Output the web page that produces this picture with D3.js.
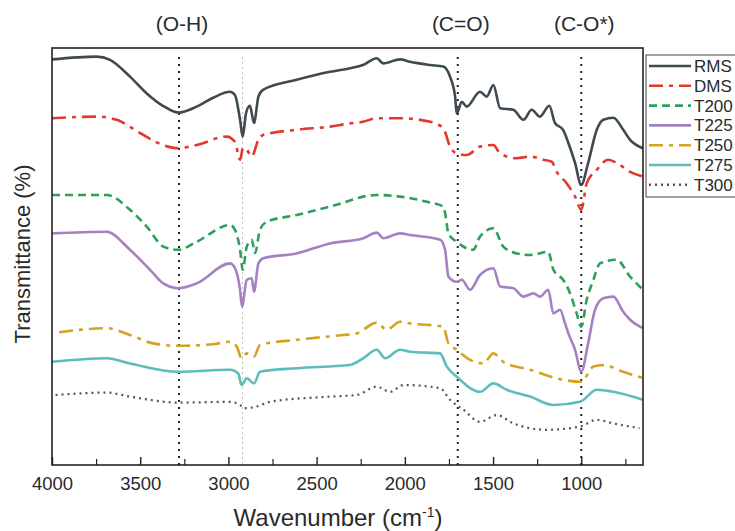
<!DOCTYPE html>
<html>
<head>
<meta charset="utf-8">
<script src="https://cdn.jsdelivr.net/npm/d3@7"></script>
<style>
  body { margin: 0; background: #fff; }
  svg { font-family: "Liberation Sans", Arial, sans-serif; }
</style>
</head>
<body>
<svg id="ftir" width="735" height="531"></svg>
<script>
// series names, in legend order
const seriesNames = ["RMS", "DMS", "T200", "T225", "T250", "T275", "T300"];

// [wavenumber, transmittance (offset, arbitrary units)]
const rms = [[4000,101.4],[3747,102.1],[3671,101.3],[3558,97.1],[3463,92.9],[3371,89.8],[3284,88.1],[3180,89.6],[3087,91.8],[2991,93.3],[2963,92.5],[2934,86.3],[2919,82.1],[2900,88.0],[2878,89.8],[2855,85.5],[2830,92.1],[2804,93.8],[2613,96.3],[2424,98.3],[2311,99.2],[2237,100],[2159,101.7],[2122,100.4],[2027,101.4],[1971,100.8],[1857,100],[1782,99.6],[1744,97.1],[1715,92.1],[1706,87.9],[1677,90.8],[1649,89.6],[1574,93.3],[1536,92.1],[1498,95],[1460,89.2],[1385,88.8],[1328,86.3],[1281,88.8],[1234,87.1],[1181,89.8],[1149,85.5],[1103,83.8],[1073,80.5],[1035,75.5],[1000,70],[961,75.5],[912,83.8],[875,86.3],[818,86.8],[762,83.8],[723,81.3],[650,79.2]];
const dms = [[4000,86.7],[3747,87.1],[3633,86.3],[3501,83],[3371,80],[3284,79.2],[3180,80],[3010,82.1],[2963,80.8],[2934,76.3],[2917,79.3],[2896,78.8],[2868,77.1],[2830,81.3],[2804,82.5],[2613,83.8],[2424,84.6],[2311,85.4],[2237,85.8],[2159,86.7],[2027,86.7],[1857,85.8],[1782,84.2],[1744,79.6],[1706,77.9],[1649,77.5],[1574,79.6],[1498,80],[1460,77.9],[1366,76.7],[1290,77.1],[1215,76.3],[1167,75.8],[1139,73.3],[1082,70.4],[1035,67.1],[1000,63.8],[969,70.4],[912,73.8],[848,76.3],[781,75],[723,73.3],[650,72.1]];
const t200 = [[4000,67.5],[3690,67.5],[3558,63.8],[3463,59.6],[3369,54.6],[3284,53.8],[3180,55.8],[2991,60],[2963,58.8],[2934,53.8],[2919,48.8],[2896,54.6],[2868,56.3],[2849,53],[2821,58.8],[2783,60.8],[2613,62.5],[2424,64.6],[2159,67.5],[2027,67.1],[1876,65.8],[1782,64.6],[1772,63],[1753,57.9],[1706,55.8],[1612,53.8],[1574,57.1],[1498,59.2],[1442,54.6],[1366,52.9],[1290,52.5],[1187,53.3],[1158,48.8],[1103,46.3],[1063,42.9],[1026,37.9],[1000,34.6],[969,41.3],[931,46.3],[894,50.4],[799,51.3],[723,47.1],[650,43.8]];
const t225 = [[4000,57.9],[3690,58.3],[3558,53.8],[3444,48.8],[3369,45.4],[3284,44.2],[3180,45.4],[2991,50.4],[2963,49.2],[2934,43.8],[2923,39.6],[2896,46.3],[2868,46.7],[2855,43.3],[2830,50.4],[2802,51.7],[2613,52.9],[2424,55.4],[2235,56.7],[2159,58.1],[2122,56.7],[2027,57.9],[1971,57.5],[1800,56.3],[1772,53.8],[1753,47.1],[1706,45.8],[1677,46.3],[1630,43.8],[1574,47.5],[1498,49.2],[1460,44.6],[1385,44.2],[1328,42.1],[1271,42.9],[1234,42.1],[1187,43.8],[1158,37.9],[1120,38.8],[1092,35.4],[1073,32.9],[1035,28.8],[1000,23.3],[961,30.4],[922,38.8],[875,41.7],[818,42.1],[762,38.3],[723,36.3],[650,34.2]];
const t250 = [[3960,33.2],[3690,34.2],[3558,32.5],[3426,30.4],[3284,29.8],[3086,30.2],[2991,30.8],[2953,29.6],[2925,26.7],[2896,27.9],[2855,27.1],[2821,30],[2613,31.3],[2349,32.5],[2273,32.9],[2159,35.6],[2103,33.8],[2027,35.8],[1971,35.4],[1782,34.6],[1753,30.4],[1706,28.8],[1630,26.3],[1555,25.4],[1498,27.9],[1442,25.8],[1290,23.8],[1103,21.3],[1000,20.8],[931,24.6],[875,25],[762,23.3],[650,21.7]];
const t275 = [[4000,25.8],[3690,26.7],[3558,25.4],[3284,23.3],[2991,23.8],[2944,22.9],[2925,20],[2896,21.7],[2855,20.4],[2821,23.3],[2613,24.2],[2311,25],[2235,26.7],[2159,28.8],[2112,26.7],[2027,28.8],[1971,28.3],[1800,27.9],[1762,24.6],[1706,22.1],[1574,18.3],[1498,20.4],[1422,18.8],[1290,17.1],[1158,15],[1007,15.8],[912,18.8],[818,18.3],[650,16.3]];
const t300 = [[3980,17.5],[3690,18.1],[3558,17.1],[3284,15.6],[2991,15.8],[2934,15],[2916,14.2],[2840,14.6],[2764,15.8],[2424,17.1],[2273,17.5],[2159,19.6],[2084,18.3],[2008,20],[1800,19.2],[1744,16.3],[1668,13.8],[1574,10.8],[1479,12.5],[1385,10.4],[1196,8.8],[1007,9.6],[912,11.3],[818,10.4],[670,9.2]];

// band assignments drawn as dotted guides
const bandLabels = ["(O-H)", "(C=O)", "(C-O*)"];
const bandPositions = [3280, 1700, 1000];
const ch2Band = 2920;

const xTicks = [4000, 3500, 3000, 2500, 2000, 1500, 1000];
const xMinorTicks = [3750, 3250, 2750, 2250, 1750, 1250, 750];

const svg = d3.select("#ftir");
const margin = { top: 48, right: 92, bottom: 66, left: 52 };
const width = 735 - margin.left - margin.right;
const height = 531 - margin.top - margin.bottom;

const x = d3.scaleLinear().domain([4000, 650]).range([margin.left, margin.left + width]);
const y = d3.scaleLinear().domain([0, 104.25]).range([margin.top + height, margin.top]);

const styles = {
  RMS:  { color: "#3e4a52", dash: null },
  DMS:  { color: "#e2392f", dash: "14,6,4,6" },
  T200: { color: "#2e9e5b", dash: "8,5" },
  T225: { color: "#a581c3", dash: null },
  T250: { color: "#d5a322", dash: "14,6,4,6" },
  T275: { color: "#5dbdbd", dash: null },
  T300: { color: "#6d4b4e", dash: "2,4" }
};
const seriesData = [rms, dms, t200, t225, t250, t275, t300];

// guide lines
const g = svg.append("g");
bandPositions.forEach((wn) => {
  g.append("line")
    .attr("x1", x(wn)).attr("x2", x(wn))
    .attr("y1", y(102)).attr("y2", y(0))
    .attr("stroke", "#222")
    .attr("stroke-width", 2)
    .attr("stroke-dasharray", "2,5");
});
g.append("line")
  .attr("x1", x(ch2Band)).attr("x2", x(ch2Band))
  .attr("y1", y(102)).attr("y2", y(0))
  .attr("stroke", "#bbb")
  .attr("stroke-width", 1)
  .attr("stroke-dasharray", "2,3");

// spectra
const line = d3.line()
  .x((d) => x(d[0]))
  .y((d) => y(d[1]))
  .curve(d3.curveMonotoneX);

seriesNames.forEach((name, i) => {
  svg.append("path")
    .datum(seriesData[i])
    .attr("d", line)
    .attr("fill", "none")
    .attr("stroke", styles[name].color)
    .attr("stroke-width", name === "T300" ? 2.2 : 2.6)
    .attr("stroke-linejoin", "round")
    .attr("stroke-dasharray", styles[name].dash);
});

// frame
svg.append("rect")
  .attr("x", margin.left).attr("y", margin.top)
  .attr("width", width).attr("height", height)
  .attr("fill", "none")
  .attr("stroke", "#222")
  .attr("stroke-width", 1.6);

// x axis, ticks pointing inward
const xAxis = svg.append("g")
  .attr("transform", `translate(0,${margin.top + height})`)
  .call(d3.axisBottom(x).tickValues(xTicks).tickSize(-8).tickPadding(12).tickFormat(d3.format("d")));
xAxis.select(".domain").remove();
xAxis.selectAll(".tick line").attr("stroke", "#222").attr("stroke-width", 1.4);
xAxis.selectAll("text").attr("font-size", 18.5).attr("fill", "#2a2a2a");

const minor = svg.append("g")
  .attr("transform", `translate(0,${margin.top + height})`)
  .call(d3.axisBottom(x).tickValues(xMinorTicks).tickSize(-6).tickFormat(""));
minor.select(".domain").remove();
minor.selectAll(".tick line").attr("stroke", "#222").attr("stroke-width", 1.2);

// axis titles
const xTitle = svg.append("text")
  .attr("x", 338)
  .attr("y", 526)
  .attr("text-anchor", "middle")
  .attr("font-size", 24)
  .attr("fill", "#2a2a2a")
  .text("Wavenumber (cm");
xTitle.append("tspan").attr("dy", -9).attr("font-size", 14).text("-1");
xTitle.append("tspan").attr("dy", 9).text(")");

svg.append("text")
  .attr("transform", `translate(30,254) rotate(-90)`)
  .attr("text-anchor", "middle")
  .attr("font-size", 22)
  .attr("fill", "#2a2a2a")
  .text("Transmittance (%)");

// band labels
bandLabels.forEach((lab, i) => {
  svg.append("text")
    .attr("x", x(bandPositions[i]) + 3)
    .attr("y", 31)
    .attr("text-anchor", "middle")
    .attr("font-size", 21)
    .attr("fill", "#2a2a2a")
    .text(lab);
});

// legend
const legend = svg.append("g").attr("transform", "translate(646,55)");
legend.append("rect")
  .attr("width", 100).attr("height", 142)
  .attr("fill", "#fff")
  .attr("stroke", "#444")
  .attr("stroke-width", 1);
seriesNames.forEach((name, i) => {
  const row = legend.append("g").attr("transform", `translate(0,${11 + i * 19.8})`);
  row.append("line")
    .attr("x1", 3).attr("x2", 45)
    .attr("stroke", styles[name].color)
    .attr("stroke-width", 2.6)
    .attr("stroke-dasharray", styles[name].dash);
  row.append("text")
    .attr("x", 48).attr("y", 6)
    .attr("font-size", 17)
    .attr("fill", "#2a2a2a")
    .text(name);
});
</script>
</body>
</html>
